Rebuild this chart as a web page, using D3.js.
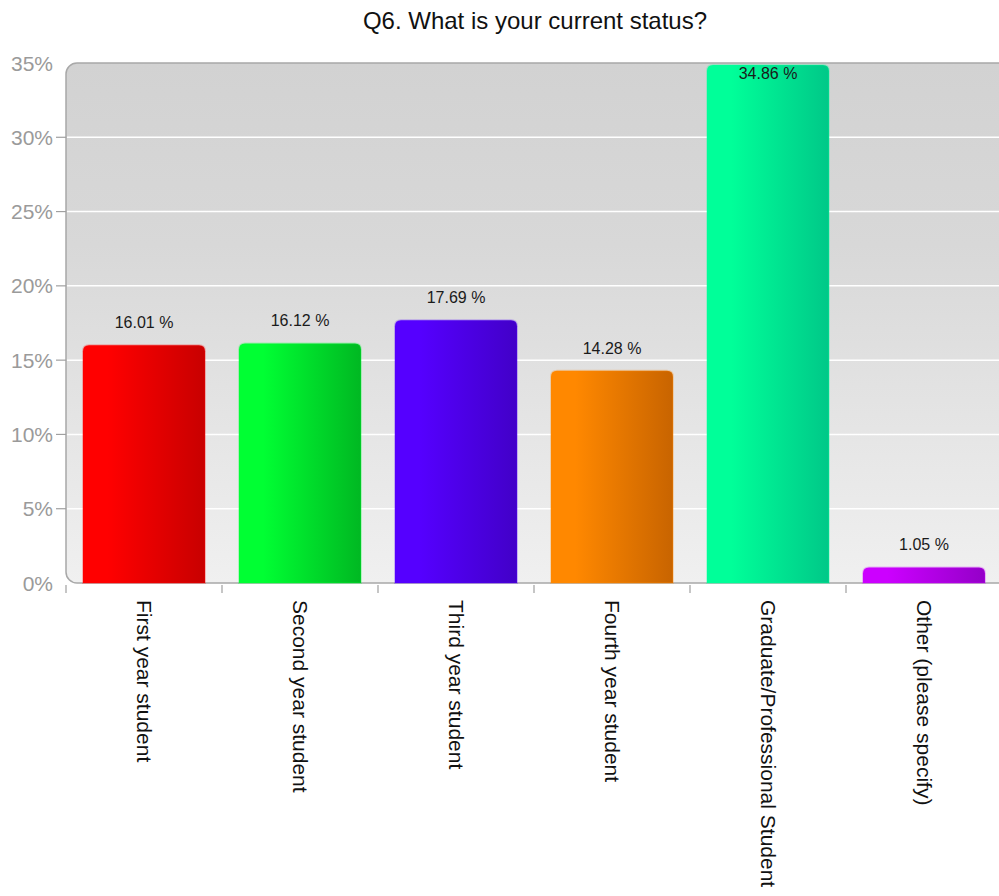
<!DOCTYPE html>
<html><head><meta charset="utf-8">
<script src="https://cdn.jsdelivr.net/npm/d3@7"></script>
<style>html,body{margin:0;padding:0;background:#fff;overflow:hidden;}svg{display:block;}</style>
</head><body>
<script>
const categories = ["First year student","Second year student","Third year student","Fourth year student","Graduate/Professional Student","Other (please specify)"];
const values = [16.01, 16.12, 17.69, 14.28, 34.86, 1.05];
const valueLabels = ["16.01 %","16.12 %","17.69 %","14.28 %","34.86 %","1.05 %"];
const colorsLight = ["#ff0000","#00ff33","#5500ff","#ff8800","#00ff99","#cc00ff"];
const colorsDark  = ["#c80000","#00b822","#4200c8","#c86400","#00c888","#9400c8"];
const yTicks = [0,5,10,15,20,25,30,35];
const title = "Q6. What is your current status?";

(function(){
const W = 999, H = 896;
const pLeft = 66, pRight = 1002, pTop = 63, pBottom = 583;
const svg = d3.select("body").append("svg").attr("width", W).attr("height", H);
const defs = svg.append("defs");

const bg = defs.append("linearGradient").attr("id","bg").attr("x1",0).attr("y1",0).attr("x2",0).attr("y2",1);
bg.append("stop").attr("offset","0").attr("stop-color","#d2d2d2");
bg.append("stop").attr("offset","0.35").attr("stop-color","#d8d8d8");
bg.append("stop").attr("offset","1").attr("stop-color","#f0f0f0");

categories.forEach((c,i)=>{
  const g = defs.append("linearGradient").attr("id","bar"+i).attr("x1",0).attr("y1",0).attr("x2",1).attr("y2",0);
  g.append("stop").attr("offset","0").attr("stop-color",colorsLight[i]);
  g.append("stop").attr("offset","0.2").attr("stop-color",colorsLight[i]);
  g.append("stop").attr("offset","1").attr("stop-color",colorsDark[i]);
});

const x = d3.scaleBand().domain(categories).range([pLeft, pRight]).paddingInner(0.218).paddingOuter(0.109);
const y = d3.scaleLinear().domain([0,35]).range([pBottom, pTop]);
const font = "Arial, 'Liberation Sans', sans-serif";

svg.append("text").attr("x", 535).attr("y", 29).attr("text-anchor","middle")
  .style("font-family",font).style("font-size","24px").attr("fill","#111").text(title);

svg.append("rect").attr("x", pLeft).attr("y", pTop).attr("width", W - pLeft + 20).attr("height", pBottom - pTop)
  .attr("rx", 11).attr("ry", 11).attr("fill","url(#bg)").attr("stroke","#a8a8a8").attr("stroke-width",1.5);

svg.append("g").selectAll("line").data(yTicks.filter(t => t > 0 && t < 35)).join("line")
  .attr("x1", pLeft + 1).attr("x2", W).attr("y1", d => y(d)).attr("y2", d => y(d))
  .attr("stroke","#ffffff").attr("stroke-width",1.5);

const yAxis = svg.append("g");
yAxis.selectAll("text").data(yTicks).join("text")
  .attr("x", 53).attr("y", d => y(d)).attr("dy","0.36em").attr("text-anchor","end")
  .style("font-family",font).style("font-size","21px").attr("fill","#9a9a9a")
  .text(d => d + "%");
yAxis.selectAll("line").data(yTicks.filter(t => t > 0 && t < 35)).join("line")
  .attr("x1", 56).attr("x2", pLeft).attr("y1", d => y(d)).attr("y2", d => y(d))
  .attr("stroke","#a0a0a0").attr("stroke-width",1.2);

const gap = (x.step() - x.bandwidth()) / 2;
svg.append("g").selectAll("line").data(categories).join("line")
  .attr("x1", d => x(d) - gap).attr("x2", d => x(d) - gap).attr("y1", pBottom + 2).attr("y2", pBottom + 10)
  .attr("stroke","#a0a0a0").attr("stroke-width",1.2);

const r = 6;
function barPath(x0, w, yTop, yBot){
  const rr = Math.min(r, (yBot - yTop));
  return `M${x0},${yBot} L${x0},${yTop+rr} Q${x0},${yTop} ${x0+rr},${yTop} L${x0+w-rr},${yTop} Q${x0+w},${yTop} ${x0+w},${yTop+rr} L${x0+w},${yBot} Z`;
}
svg.append("g").selectAll("path").data(values).join("path")
  .attr("d", (d,i) => barPath(x(categories[i]), x.bandwidth(), y(d), pBottom))
  .attr("fill", (d,i) => `url(#bar${i})`)
  .attr("stroke", (d,i) => colorsLight[i]).attr("stroke-opacity",0.25).attr("stroke-width",2);

svg.append("g").selectAll("text").data(values).join("text")
  .attr("x", (d,i) => x(categories[i]) + x.bandwidth()/2)
  .attr("y", d => Math.max(y(d) - 23, y(35) + 10))
  .attr("dy","0.36em").attr("text-anchor","middle")
  .style("font-family",font).style("font-size","16px").attr("fill","#1a1a1a")
  .text((d,i) => valueLabels[i]);

svg.append("g").selectAll("text").data(categories).join("text")
  .attr("transform", d => `translate(${x(d) + x.bandwidth()/2},600) rotate(90)`)
  .attr("dy","0.35em").attr("text-anchor","start")
  .style("font-family",font).style("font-size","21px").attr("fill","#111")
  .text(d => d);
})();
</script>
</body></html>
